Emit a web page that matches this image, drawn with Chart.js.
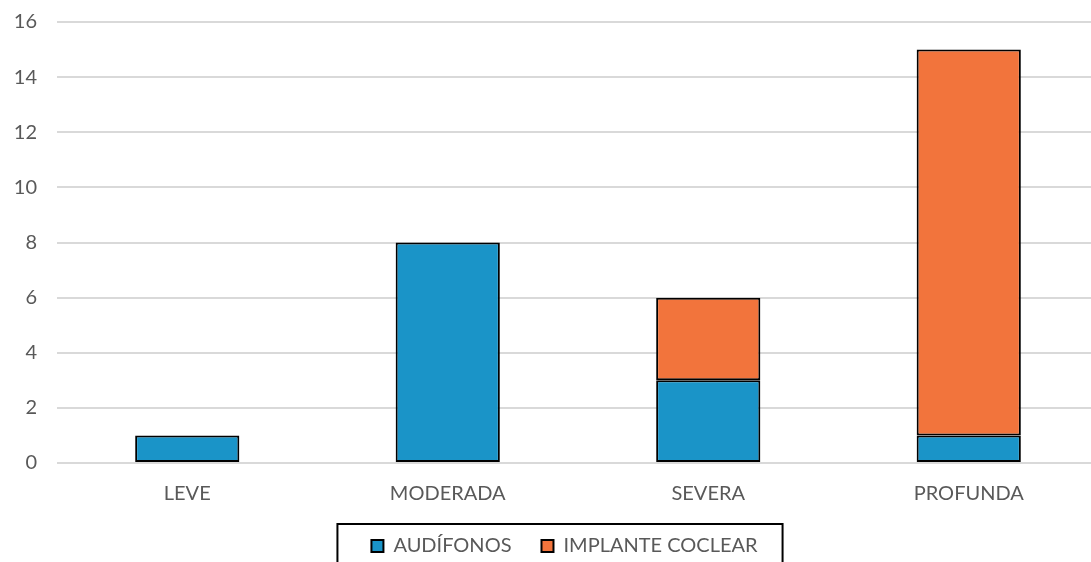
<!DOCTYPE html>
<html>
<head>
<meta charset="utf-8">
<script src="https://cdn.jsdelivr.net/npm/chart.js@4"></script>
<style>
  html, body { margin: 0; padding: 0; overflow: hidden; background: #fff; }
  #wrap { width: 1130px; height: 566px; }
</style>
</head>
<body>
<div id="wrap"><canvas id="chart"></canvas></div>
<script>
// categories and series
const categories = ['LEVE', 'MODERADA', 'SEVERA', 'PROFUNDA'];
const audifonos = [1, 8, 3, 1];
const implante = [0, 0, 3, 14];
const yTicks = [0, 2, 4, 6, 8, 10, 12, 14, 16];

const gray = '#595959';
const font = { family: 'Lato', size: 20 };

// legend sits a bit right of centre in the original; frame it like Excel does
const legendFrame = {
    id: 'legendFrame',
    afterLayout(chart) {
        chart.legend.left += 15;
        chart.legend.right += 15;
    },
    afterDraw(chart) {
        const boxes = chart.legend.legendHitBoxes;
        if (!boxes || !boxes.length) return;
        const left = Math.min(...boxes.map(b => b.left)) - 34;
        const right = Math.max(...boxes.map(b => b.left + b.width)) + 25;
        const top = boxes[0].top - 12;
        const ctx = chart.ctx;
        ctx.save();
        ctx.strokeStyle = '#000';
        ctx.lineWidth = 2;
        ctx.strokeRect(left, top, right - left, 60);
        ctx.restore();
    }
};

new Chart(document.getElementById('chart').getContext('2d'), {
    type: 'bar',
    data: {
        labels: categories,
        datasets: [
            { label: 'AUDÍFONOS', data: audifonos, backgroundColor: '#1a94c8', borderColor: '#000', borderWidth: 2, borderSkipped: false },
            { label: 'IMPLANTE COCLEAR', data: implante, backgroundColor: '#f2743c', borderColor: '#000', borderWidth: 2, borderSkipped: false }
        ]
    },
    options: {
        responsive: true,
        maintainAspectRatio: false,
        animation: false,
        layout: { padding: { top: 22, right: 31, left: 0, bottom: 0 } },
        datasets: { bar: { categoryPercentage: 0.4, barPercentage: 1 } },
        scales: {
            x: {
                stacked: true,
                grid: { display: false },
                border: { display: false },
                afterFit: s => { s.height = 43; },
                ticks: { color: gray, font: font, padding: 11 }
            },
            y: {
                stacked: true,
                min: 0,
                max: 16,
                afterBuildTicks: s => { s.ticks = yTicks.map(v => ({ value: v })); },
                afterFit: s => { s.width = 57; s.paddingTop = 0; },
                grid: { color: '#d9d9d9', lineWidth: 2, drawTicks: false },
                border: { display: false },
                ticks: { color: gray, font: font, padding: 20 }
            }
        },
        plugins: {
            legend: {
                position: 'bottom',
                labels: {
                    color: gray,
                    font: font,
                    boxWidth: 12,
                    boxHeight: 12,
                    padding: 30,
                    useBorderRadius: false,
                    generateLabels: chart => chart.data.datasets.map((d, i) => ({
                        text: d.label,
                        fillStyle: d.backgroundColor,
                        strokeStyle: '#000',
                        lineWidth: 2,
                        fontColor: gray,
                        datasetIndex: i
                    }))
                }
            },
            tooltip: { enabled: false }
        }
    },
    plugins: [legendFrame]
});
</script>
</body>
</html>
